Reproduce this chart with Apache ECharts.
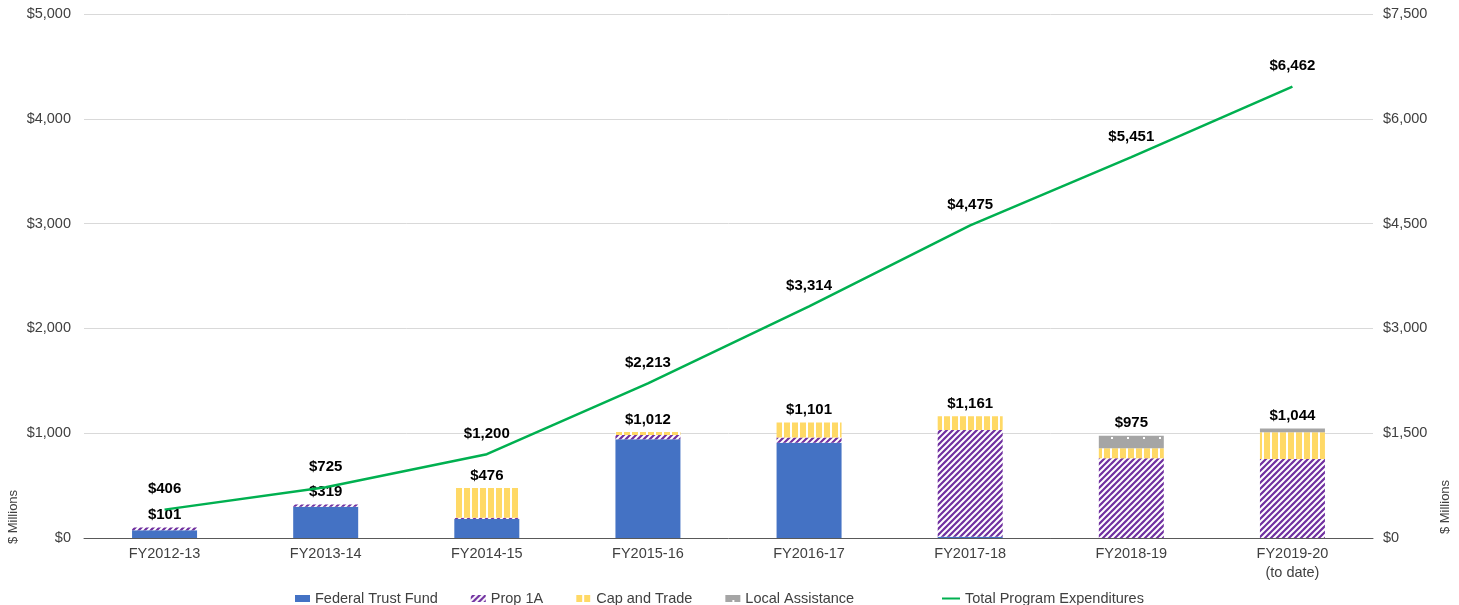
<!DOCTYPE html>
<html>
<head>
<meta charset="utf-8">
<script src="https://cdn.jsdelivr.net/npm/echarts@6/dist/echarts.min.js"></script>
<style>
  html, body { margin: 0; padding: 0; background: #fff; }
  #main { width: 1459px; height: 605px; }
</style>
</head>
<body>
<div id="main"></div>
<script>
  var categories = ['FY2012-13', 'FY2013-14', 'FY2014-15', 'FY2015-16', 'FY2016-17', 'FY2017-18', 'FY2018-19', 'FY2019-20\n(to date)']
  var federal = [75, 299, 181, 942, 910, 12, 0, 0]
  var prop1a = [26, 20, 12, 40, 48, 1018, 760, 754]
  var capTrade = [0, 0, 283, 30, 143, 131, 96, 255]
  var localAssist = [0, 0, 0, 0, 0, 0, 119, 35]
  var barTotals = [101, 319, 476, 1012, 1101, 1161, 975, 1044]
  var totalExp = [406, 725, 1200, 2213, 3314, 4475, 5451, 6462]

  var font = '"Liberation Sans", Arial, sans-serif'
  var money = function (v) { return '$' + Number(v).toLocaleString('en-US') }

  // small canvas tiles for the Excel-like fill patterns
  function tile(w, h, base, draw) {
    var c = document.createElement('canvas')
    c.width = w
    c.height = h
    var ctx = c.getContext('2d')
    ctx.fillStyle = base
    ctx.fillRect(0, 0, w, h)
    draw(ctx)
    return { image: c, repeat: 'repeat' }
  }
  var purpleFill = tile(6, 6, '#7030A0', function (ctx) {
    ctx.strokeStyle = '#fff'
    ctx.lineWidth = 2
    ctx.beginPath()
    ctx.moveTo(-1, 1); ctx.lineTo(1, -1)
    ctx.moveTo(0, 6); ctx.lineTo(6, 0)
    ctx.moveTo(5, 7); ctx.lineTo(7, 5)
    ctx.stroke()
  })
  var yellowFill = tile(8, 4, '#FFD966', function (ctx) {
    ctx.fillStyle = '#fff'
    ctx.fillRect(6, 0, 2, 4)
  })
  var grayFill = tile(16, 12, '#A5A5A5', function (ctx) {
    ctx.fillStyle = '#fff'
    ctx.fillRect(7, 5, 2, 2)
  })

  var chart = echarts.init(document.getElementById('main'))
  chart.setOption({
    animation: false,
    textStyle: { fontFamily: font },
    grid: { left: 84, right: 86, top: 14, bottom: 67 },
    legend: [{
      data: ['Federal Trust Fund', 'Prop 1A', 'Cap and Trade', 'Local Assistance'],
      left: 290,
      top: 586,
      itemWidth: 15,
      itemHeight: 7,
      itemGap: 33,
      icon: 'rect',
      textStyle: { fontSize: 14.5, color: '#404040', fontFamily: font }
    }, {
      data: ['Total Program Expenditures'],
      left: 937,
      top: 586,
      itemWidth: 18,
      itemHeight: 2,
      icon: 'rect',
      textStyle: { fontSize: 14.5, color: '#404040', fontFamily: font }
    }],
    xAxis: {
      type: 'category',
      data: categories,
      axisTick: { show: false },
      axisLine: { lineStyle: { color: '#595959', width: 1 } },
      axisLabel: { color: '#404040', fontSize: 14.5, margin: 6, lineHeight: 19, interval: 0 }
    },
    yAxis: [{
      type: 'value',
      min: 0,
      max: 5000,
      interval: 1000,
      axisLabel: { color: '#404040', fontSize: 14.5, margin: 13, formatter: money },
      splitLine: { lineStyle: { color: '#D9D9D9' } }
    }, {
      type: 'value',
      min: 0,
      max: 7500,
      interval: 1500,
      axisLabel: { color: '#404040', fontSize: 14.5, margin: 10, formatter: money },
      splitLine: { show: false }
    }],
    graphic: [{
      type: 'text', x: 13, y: 517, rotation: Math.PI / 2,
      style: { text: '$ Millions', align: 'center', verticalAlign: 'middle', fontSize: 13, fill: '#404040', fontFamily: font }
    }, {
      type: 'text', x: 1445, y: 507, rotation: Math.PI / 2,
      style: { text: '$ Millions', align: 'center', verticalAlign: 'middle', fontSize: 13, fill: '#404040', fontFamily: font }
    }],
    series: [{
      name: 'Federal Trust Fund',
      type: 'bar',
      stack: 'b',
      barWidth: 65,
      barGap: '-100%',
      data: federal,
      itemStyle: { color: '#4472C4' }
    }, {
      name: 'Prop 1A',
      type: 'bar',
      stack: 'b',
      barWidth: 65,
      data: prop1a,
      itemStyle: { color: purpleFill }
    }, {
      name: 'Cap and Trade',
      type: 'bar',
      stack: 'b',
      barWidth: 65,
      data: capTrade,
      itemStyle: { color: yellowFill }
    }, {
      name: 'Local Assistance',
      type: 'bar',
      stack: 'b',
      barWidth: 65,
      data: localAssist,
      itemStyle: { color: grayFill }
    }, {
      name: 'Bar Total',
      type: 'bar',
      barWidth: 65,
      data: barTotals,
      itemStyle: { color: 'rgba(0,0,0,0)' },
      label: {
        show: true, position: 'top', distance: 5,
        fontSize: 15, fontWeight: 'bold', color: '#000', fontFamily: font,
        formatter: function (p) { return money(p.value) }
      }
    }, {
      name: 'Total Program Expenditures',
      type: 'line',
      yAxisIndex: 1,
      data: totalExp,
      showSymbol: true,
      symbol: 'circle',
      symbolSize: 0,
      lineStyle: { color: '#00B050', width: 2.5 },
      itemStyle: { color: '#00B050' },
      label: {
        show: true, position: 'top', distance: 13,
        fontSize: 15, fontWeight: 'bold', color: '#000', fontFamily: font,
        formatter: function (p) { return money(p.value) }
      },
      z: 5
    }]
  })
</script>
</body>
</html>
